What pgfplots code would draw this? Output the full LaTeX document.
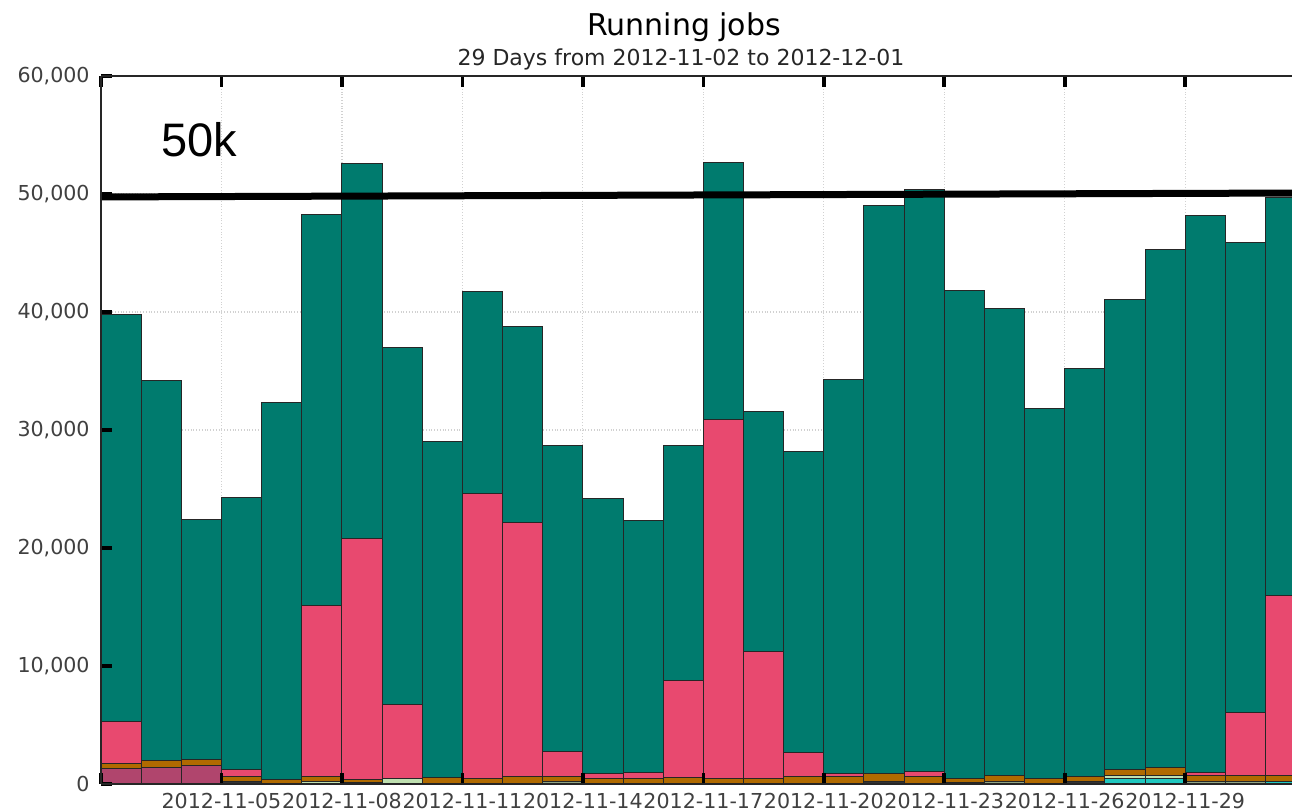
\documentclass[border=0pt]{standalone}
\usepackage{fontspec}
\setmainfont{DejaVu Sans}
\newfontfamily\arialfont{Liberation Sans}
\usepackage{pgfplots}
\usepackage{pgfplotstable}
\pgfplotsset{compat=1.18}
\definecolor{cteal}{HTML}{007B6E}
\definecolor{cpink}{HTML}{E8496F}
\definecolor{cmauve}{HTML}{B0456D}
\definecolor{corange}{HTML}{B06A00}
\definecolor{clgreen}{HTML}{BFE0B0}
\definecolor{cggreen}{HTML}{90A585}
\definecolor{ccyan}{HTML}{20C8C0}
\definecolor{cdark}{HTML}{333333}

\pgfplotstableread{
x    dark mauve cyan lgreen ggreen orange pink  teal
0.5  0    1300  0    0      0      400    3600  34500
1.5  0    1400  0    0      0      550    0     32250
2.5  0    1550  0    0      0      550    0     20300
3.5  250  0     0    0      0      400    600   23050
4.5  0    0     0    0      0      400    0     31900
5.5  0    0     0    200    0      400    14500 33200
6.5  100  0     0    0      0      300    20400 31800
7.5  0    0     0    450    0      0      6300  30250
8.5  0    0     0    0      0      550    0     28450
9.5  0    0     0    0      0      500    24100 17100
10.5 0    0     0    0      0      650    21500 16650
11.5 0    0     0    0      200    400    2150  25950
12.5 0    0     0    0      0      500    400   23300
13.5 0    0     0    0      0      500    450   21350
14.5 0    0     0    0      0      550    8200  19950
15.5 0    0     0    0      0      500    30400 21800
16.5 0    0     0    0      0      500    10750 20350
17.5 0    0     0    0      0      650    2000  25550
18.5 0    0     0    0      0      600    250   33450
19.5 200  0     0    0      0      650    0     48150
20.5 0    0     0    0      0      600    450   49350
21.5 100  0     0    0      0      400    0     41300
22.5 0    0     0    0      200    500    0     39600
23.5 0    0     0    0      0      450    0     31350
24.5 200  0     0    0      0      450    0     34550
25.5 0    0     450  250    0      550    0     39850
26.5 0    0     450  250    0      700    0     43900
27.5 0    0     0    0      200    500    300   47200
28.5 0    0     0    0      200    500    5350  39850
29.5 0    0     200  0      0      550    15250 33700
}\data

\pgfplotsset{
  frame/.style={
    scale only axis, width=595.5pt, height=354pt,
    xmin=0, xmax=29.66, ymin=0, ymax=60000,
    axis x line=box, axis y line*=left,
    xtick={0,3,...,27}, ytick={0,10000,...,60000},
    scaled y ticks=false, scaled x ticks=false,
    tick align=inside, major tick length=5.5pt,
    tick style={black, line width=1.8pt},
    axis line style={black!85, line width=0.7pt},
  },
  segment/.style={fill=#1, draw=black!85, line width=0.5pt},
}

\begin{document}
\begin{tikzpicture}
\begin{axis}[frame, name=ax,
    ybar stacked, bar width=1,
    grid=major, grid style={densely dotted, black!18, line width=0.6pt},
    xticklabels={{},2012-11-05,2012-11-08,2012-11-11,2012-11-14,2012-11-17,2012-11-20,2012-11-23,2012-11-26,2012-11-29},
    /pgf/number format/assume math mode=true,
    /pgf/number format/1000 sep={,},
    tick label style={font=\fontsize{10.3}{12}\selectfont, text=black!75},
    yticklabel style={inner sep=0pt, xshift=-5.5pt},
    xticklabel style={inner sep=0pt, yshift=-4.5pt},
  ]
  \addplot[segment=cdark]   table[x=x, y=dark]   {\data};
  \addplot[segment=cmauve]  table[x=x, y=mauve]  {\data};
  \addplot[segment=ccyan]   table[x=x, y=cyan]   {\data};
  \addplot[segment=clgreen] table[x=x, y=lgreen] {\data};
  \addplot[segment=cggreen] table[x=x, y=ggreen] {\data};
  \addplot[segment=corange] table[x=x, y=orange] {\data};
  \addplot[segment=cpink]   table[x=x, y=pink]   {\data};
  \addplot[segment=cteal]   table[x=x, y=teal]   {\data};
\end{axis}
\begin{axis}[frame, axis on top, xticklabels={}, yticklabels={}]
  \addplot[black, line width=3.5pt] coordinates {(0,49750) (29.66,50080)};
  \node[anchor=base west, inner sep=0pt, font=\arialfont\fontsize{23.5}{28}\selectfont] at (axis cs:1.494,53200) {50k};
\end{axis}
\node[anchor=base, font=\fontsize{15}{18}\selectfont] at ([xshift=291.5pt, yshift=20pt]ax.north west) {Running jobs};
\node[anchor=base, font=\fontsize{11}{13}\selectfont, text=black!85] at ([xshift=290pt, yshift=5.15pt]ax.north west) {29 Days from 2012-11-02 to 2012-12-01};
\pgfresetboundingbox
\path[use as bounding box] ([xshift=-50.5pt, yshift=-14pt]ax.south west) rectangle ([yshift=38pt]ax.north east);
\end{tikzpicture}
\end{document}
